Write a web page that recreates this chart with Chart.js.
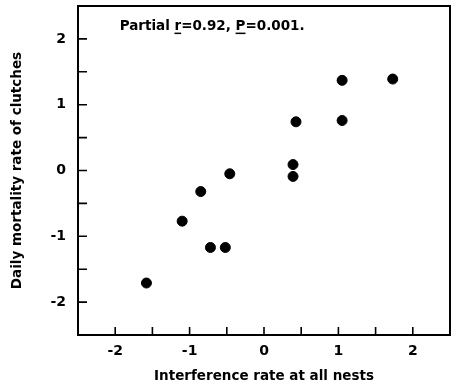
<!DOCTYPE html>
<html lang="en">
<head>
  <meta charset="UTF-8">
  <title>Interference vs mortality</title>
  <script src="https://cdn.jsdelivr.net/npm/chart.js"></script>
  <style>
    body { margin: 0; padding: 0; background: #fff; }
    #wrap { width: 456px; height: 389px; }
  </style>
</head>
<body>
  <div id="wrap"><canvas id="plot" width="456" height="389"></canvas></div>

  <script>
    // values
    const interference = [-1.58, -1.10, -0.85, -0.72, -0.52, -0.46, 0.39, 0.39, 0.43, 1.05, 1.05, 1.73];
    const mortality    = [-1.71, -0.77, -0.32, -1.17, -1.17, -0.05, 0.09, -0.09, 0.74, 1.37, 0.76, 1.39];
    const axisMin = -2.5, axisMax = 2.5;
    const labelledTicks = [-2, -1, 0, 1, 2];

    const points = interference.map((x, i) => ({ x: x, y: mortality[i] }));
    const font = 'DejaVu Sans, Liberation Sans, Arial, sans-serif';

    // inward ticks, box frame and the stats note
    const framePlugin = {
      id: 'frame',
      afterDraw(chart) {
        const { ctx, chartArea: a, scales } = chart;
        ctx.save();
        ctx.strokeStyle = '#000';
        ctx.lineWidth = 2;
        ctx.strokeRect(a.left, a.top, a.right - a.left, a.bottom - a.top);

        ctx.lineWidth = 1.6;
        ctx.beginPath();
        scales.x.ticks.forEach(t => {
          const px = scales.x.getPixelForValue(t.value);
          if (t.value <= axisMin || t.value >= axisMax) return;
          ctx.moveTo(px, a.bottom);
          ctx.lineTo(px, a.bottom - 8);
        });
        scales.y.ticks.forEach(t => {
          const py = scales.y.getPixelForValue(t.value);
          if (t.value <= axisMin || t.value >= axisMax) return;
          ctx.moveTo(a.left, py);
          ctx.lineTo(a.left + 9, py);
        });
        ctx.stroke();

        // "Partial r=0.92, P=0.001."
        ctx.fillStyle = '#000';
        ctx.font = 'bold 13.5px ' + font;
        ctx.textBaseline = 'alphabetic';
        const bx = scales.x.getPixelForValue(-1.94);
        const by = scales.y.getPixelForValue(2.13);
        const parts = [['Partial ', false], ['r', true], ['=0.92, ', false], ['P', true], ['=0.001.', false]];
        let cx = bx;
        ctx.lineWidth = 1.5;
        parts.forEach(([s, ul]) => {
          ctx.fillText(s, cx, by);
          const w = ctx.measureText(s).width;
          if (ul) {
            ctx.beginPath();
            ctx.moveTo(cx, by + 3);
            ctx.lineTo(cx + w, by + 3);
            ctx.stroke();
          }
          cx += w;
        });
        ctx.restore();
      }
    };

    const tickFont = { family: font, size: 14, weight: 'bold' };
    const titleFont = { family: font, size: 13.5, weight: 'bold' };
    const labelCb = v => labelledTicks.includes(v) ? String(v) : '';

    new Chart(document.getElementById('plot'), {
      type: 'scatter',
      data: {
        datasets: [{
          data: points,
          backgroundColor: '#000',
          borderColor: '#000',
          pointRadius: 5,
          pointHoverRadius: 5
        }]
      },
      options: {
        responsive: false,
        animation: false,
        layout: { padding: { left: 0, top: 5, right: 4, bottom: 0 } },
        plugins: { legend: { display: false }, tooltip: { enabled: false } },
        scales: {
          x: {
            min: axisMin, max: axisMax,
            grid: { display: false, drawTicks: false },
            border: { display: false },
            ticks: { stepSize: 0.5, autoSkip: false, maxRotation: 0, padding: 8, color: '#000', font: tickFont, callback: labelCb },
            title: { display: true, text: 'Interference rate at all nests', color: '#000', font: titleFont, padding: { top: 10 } },
            afterFit(s) { s.height = 54; s.paddingLeft = 0; s.paddingRight = 0; }
          },
          y: {
            min: axisMin, max: axisMax,
            grid: { display: false, drawTicks: false },
            border: { display: false },
            ticks: { stepSize: 0.5, autoSkip: false, padding: 12, color: '#000', font: tickFont, callback: labelCb },
            title: { display: true, text: 'Daily mortality rate of clutches', color: '#000', font: titleFont, padding: { top: 9, bottom: 10 } },
            afterFit(s) { s.width = 78; s.paddingTop = 0; s.paddingBottom = 0; }
          }
        }
      },
      plugins: [framePlugin]
    });
  </script>
</body>
</html>
